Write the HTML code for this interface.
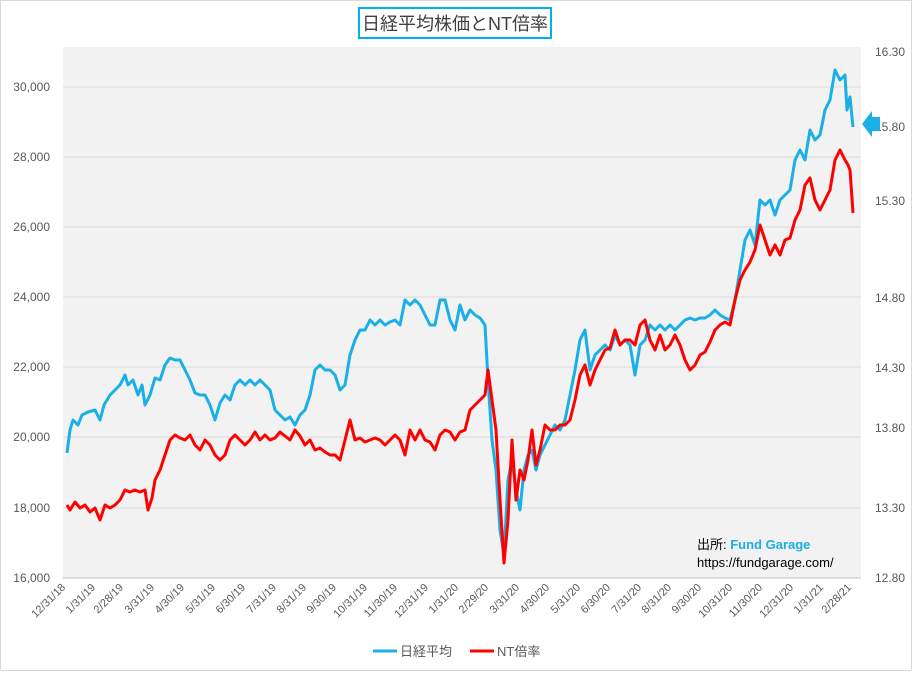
<!DOCTYPE html><html><head><meta charset="utf-8"><style>body{margin:0;background:#fff}</style></head><body>
<svg width="912" height="671" xmlns="http://www.w3.org/2000/svg" font-family="'Liberation Sans','Noto Sans CJK JP',sans-serif">
<rect x="0.5" y="0.5" width="911" height="670" fill="#fff" stroke="#d9d9d9"/>
<rect x="63" y="47" width="798" height="531" fill="#f2f2f2"/>
<g stroke="#d9d9d9" stroke-width="1">
<line x1="63" x2="861" y1="87" y2="87"/><line x1="63" x2="861" y1="157" y2="157"/><line x1="63" x2="861" y1="227" y2="227"/><line x1="63" x2="861" y1="297" y2="297"/><line x1="63" x2="861" y1="367" y2="367"/><line x1="63" x2="861" y1="437" y2="437"/><line x1="63" x2="861" y1="508" y2="508"/><line x1="63" x2="861" y1="578" y2="578" stroke="#bfbfbf"/>
</g>
<rect x="359" y="8" width="192" height="30" fill="#fff" stroke="#00b0f0" stroke-width="2"/>
<text x="455" y="30" font-size="18" text-anchor="middle" fill="#404040">日経平均株価とNT倍率</text>
<g font-size="12" fill="#595959" text-anchor="end">
<text x="50" y="91">30,000</text><text x="50" y="161">28,000</text><text x="50" y="231">26,000</text><text x="50" y="301">24,000</text><text x="50" y="371">22,000</text><text x="50" y="441">20,000</text><text x="50" y="512">18,000</text><text x="50" y="582">16,000</text>
</g>
<g font-size="12" fill="#595959" text-anchor="end">
<text x="905" y="56">16.30</text><text x="905" y="131">15.80</text><text x="905" y="205">15.30</text><text x="905" y="302">14.80</text><text x="905" y="372">14.30</text><text x="905" y="432">13.80</text><text x="905" y="512">13.30</text><text x="905" y="582">12.80</text>
</g>
<g font-size="11" fill="#595959" text-anchor="end">
<text transform="translate(66,588) rotate(-45)">12/31/18</text><text transform="translate(96,588) rotate(-45)">1/31/19</text><text transform="translate(124,588) rotate(-45)">2/28/19</text><text transform="translate(155,588) rotate(-45)">3/31/19</text><text transform="translate(185,588) rotate(-45)">4/30/19</text><text transform="translate(216,588) rotate(-45)">5/31/19</text><text transform="translate(246,588) rotate(-45)">6/30/19</text><text transform="translate(277,588) rotate(-45)">7/31/19</text><text transform="translate(307,588) rotate(-45)">8/31/19</text><text transform="translate(337,588) rotate(-45)">9/30/19</text><text transform="translate(368,588) rotate(-45)">10/31/19</text><text transform="translate(398,588) rotate(-45)">11/30/19</text><text transform="translate(429,588) rotate(-45)">12/31/19</text><text transform="translate(459,588) rotate(-45)">1/31/20</text><text transform="translate(489,588) rotate(-45)">2/29/20</text><text transform="translate(520,588) rotate(-45)">3/31/20</text><text transform="translate(550,588) rotate(-45)">4/30/20</text><text transform="translate(581,588) rotate(-45)">5/31/20</text><text transform="translate(611,588) rotate(-45)">6/30/20</text><text transform="translate(642,588) rotate(-45)">7/31/20</text><text transform="translate(672,588) rotate(-45)">8/31/20</text><text transform="translate(702,588) rotate(-45)">9/30/20</text><text transform="translate(733,588) rotate(-45)">10/31/20</text><text transform="translate(763,588) rotate(-45)">11/30/20</text><text transform="translate(794,588) rotate(-45)">12/31/20</text><text transform="translate(824,588) rotate(-45)">1/31/21</text><text transform="translate(852,588) rotate(-45)">2/28/21</text>
</g>
<polyline fill="none" stroke="#1aafe6" stroke-width="3" stroke-linejoin="round" points="67,453 70,430 73,420 78,425 82,415 88,412 95,410 100,420 104,405 110,395 115,390 120,385 125,375 128,385 133,380 138,395 142,385 145,405 150,395 155,378 160,380 165,365 170,358 175,360 180,360 185,370 190,380 195,393 200,395 205,395 210,405 215,420 220,403 225,395 230,400 235,385 240,380 245,385 250,380 255,385 260,380 265,385 270,390 275,410 280,415 285,420 290,417 295,425 300,415 305,410 310,395 315,370 320,365 325,370 330,370 335,375 340,390 345,385 350,355 355,340 360,330 365,330 370,320 375,325 380,320 385,325 390,322 395,320 400,325 405,300 410,305 415,300 420,305 425,315 430,325 435,325 440,300 445,300 450,320 455,330 460,305 465,320 470,310 475,315 480,318 485,325 488,380 492,440 496,470 500,530 504,555 508,480 512,460 516,490 520,510 524,470 528,455 532,450 536,470 540,455 545,445 550,435 555,425 560,430 565,420 570,395 575,370 580,340 585,330 590,370 595,355 600,350 605,345 610,350 615,335 620,345 625,340 630,345 635,375 640,345 645,340 650,325 655,330 660,325 665,330 670,325 675,330 680,325 685,320 690,318 695,320 700,318 705,318 710,315 715,310 720,315 725,318 730,320 735,300 740,270 745,240 750,230 755,245 760,200 765,205 770,200 775,215 780,200 785,195 790,190 795,160 800,150 805,160 810,130 815,140 820,135 825,110 830,100 835,70 840,80 845,75 847,110 850,97 853,127"/>
<polyline fill="none" stroke="#ff0000" stroke-width="3" stroke-linejoin="round" points="67,505 70,510 75,502 80,508 85,505 90,512 95,508 100,520 105,505 110,508 115,505 120,500 125,490 130,492 135,490 140,492 145,490 148,510 152,498 155,480 160,470 165,455 170,440 175,435 180,438 185,440 190,435 195,445 200,450 205,440 210,445 215,455 220,460 225,455 230,440 235,435 240,440 245,445 250,440 255,432 260,440 265,435 270,440 275,438 280,432 285,436 290,440 295,430 300,436 305,445 310,440 315,450 320,448 325,452 330,455 335,455 340,460 345,440 350,420 355,440 360,438 365,442 370,440 375,438 380,440 385,445 390,440 395,435 400,440 405,455 410,430 415,440 420,430 425,440 430,442 435,450 440,435 445,430 450,432 455,440 460,432 465,430 470,410 475,405 480,400 485,395 488,370 492,400 496,430 500,500 504,563 508,520 512,440 516,500 520,470 524,480 528,460 532,430 536,465 540,450 545,425 550,430 555,430 560,425 565,425 570,420 575,400 580,375 585,365 590,385 595,370 600,360 605,350 610,348 615,330 620,345 625,340 630,340 635,345 640,325 645,320 650,340 655,350 660,335 665,350 670,345 675,335 680,345 685,360 690,370 695,365 700,355 705,352 710,342 715,330 720,325 725,322 730,325 735,300 740,280 745,270 750,262 755,250 760,225 765,240 770,255 775,245 780,255 785,240 790,238 795,220 800,210 805,185 810,178 815,200 820,210 825,200 830,190 835,160 840,150 845,160 848,165 850,170 853,213"/>
<polygon points="862,124 872,111 872,117 880,117 880,131 872,131 872,137" fill="#1aafe6"/>
<text x="697" y="549" font-size="13" fill="#000">出所: <tspan fill="#1aafe6" font-weight="bold">Fund Garage</tspan></text>
<text x="697" y="567" font-size="13" fill="#000">https://fundgarage.com/</text>
<line x1="373" x2="397" y1="651" y2="651" stroke="#1aafe6" stroke-width="3"/>
<text x="400" y="656" font-size="13" fill="#595959">日経平均</text>
<line x1="470" x2="494" y1="651" y2="651" stroke="#ff0000" stroke-width="3"/>
<text x="497" y="656" font-size="13" fill="#595959">NT倍率</text>
</svg></body></html>
